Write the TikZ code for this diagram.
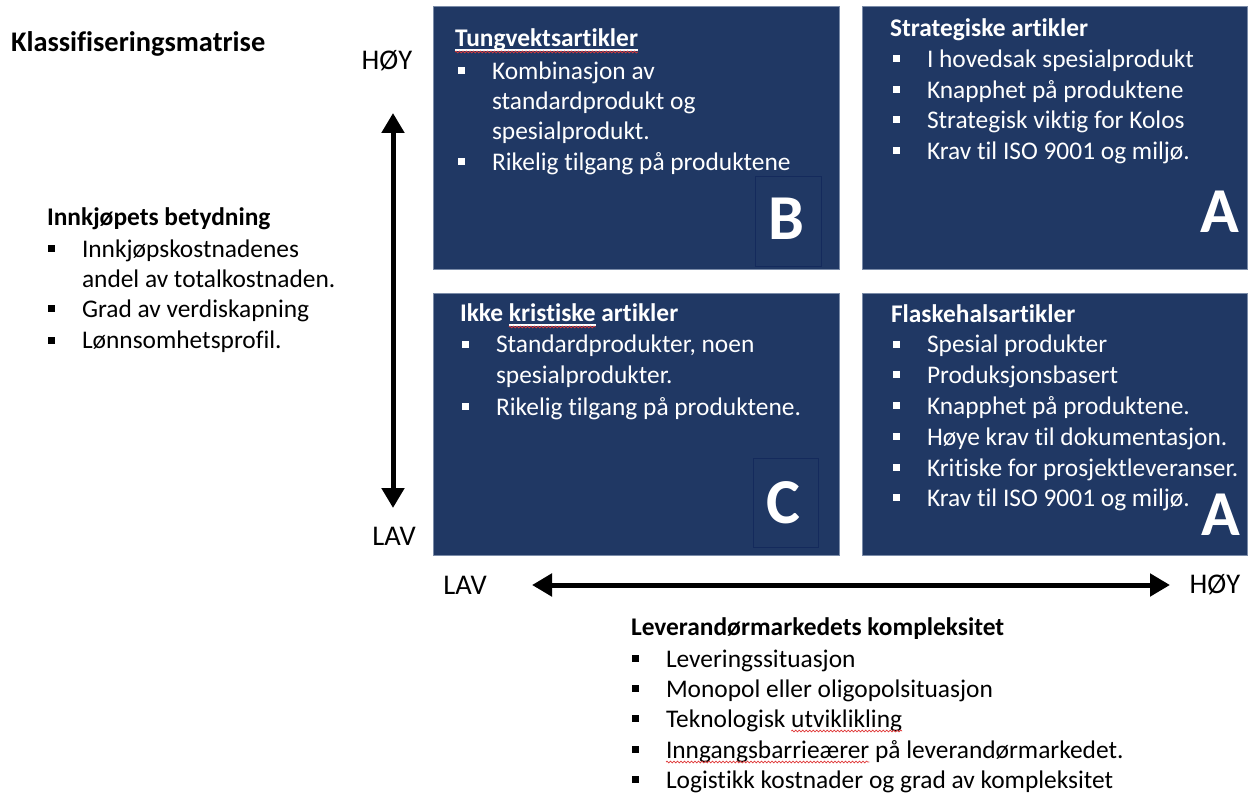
\documentclass[tikz,border=0pt]{standalone}
\usepackage{fontspec}
\setmainfont[Ligatures={NoCommon}]{Carlito}
\usetikzlibrary{arrows.meta,decorations.pathmorphing}
\definecolor{navy}{HTML}{203864}
\definecolor{boxedge}{HTML}{7A8BA8}
\definecolor{letteredge}{HTML}{142A5C}
\definecolor{wavecol}{HTML}{E03A3A}
\newcommand\bul{\makebox[34pt][l]{\rule[5.5pt]{7pt}{7pt}}}
\begin{document}
\begin{tikzpicture}[x=1pt,y=-1pt,
  body/.style={anchor=base west, inner sep=0pt, outer sep=0pt, font=\fontsize{25.4}{30}\selectfont},
  wtxt/.style={body, text=white},
  wttl/.style={wtxt, font=\fontsize{25.4}{30}\selectfont\bfseries},
  bttl/.style={body, font=\fontsize{25.4}{30}\selectfont\bfseries},
  mainttl/.style={body, font=\fontsize{28.4}{32}\selectfont\bfseries},
  axlbl/.style={anchor=base, inner sep=0pt, font=\fontsize{28.5}{32}\selectfont},
  quad/.style={fill=navy, draw=boxedge, line width=1pt, anchor=north west, inner sep=0pt},
  letterbox/.style={draw=letteredge, line width=1pt, anchor=north west, inner sep=0pt},
  bigletter/.style={inner sep=0pt, text=white, font=\fontsize{64}{64}\selectfont\bfseries},
  ulwhite/.style={draw=white, line width=1.4pt},
  wavy/.style={draw=wavecol, line width=0.7pt, decorate, decoration={snake, segment length=3.5pt, amplitude=0.9pt}},
  axarrow/.style={line width=5pt, {Triangle[length=20pt,width=22pt]}-{Triangle[length=20pt,width=22pt]}}
]
\useasboundingbox (0,0) rectangle (1251,794);
\fill[white] (0,0) rectangle (1251,794);

% quadrants
\node[quad, minimum width=406pt, minimum height=263pt] (qtl) at (433,6) {};
\node[quad, minimum width=385pt, minimum height=263pt] (qtr) at (862,6) {};
\node[quad, minimum width=406pt, minimum height=262pt] (qbl) at (433,293) {};
\node[quad, minimum width=385pt, minimum height=262pt] (qbr) at (862,293) {};

% letter boxes
\node[letterbox, minimum width=66pt, minimum height=90pt] (bbox) at (755,176) {};
\node[letterbox, minimum width=65pt, minimum height=89pt] (cbox) at (753,458) {};
\node[bigletter, anchor=base] (lb) at (786,240) {B};
\node[bigletter, anchor=base] (lc) at (783,523) {C};
\node[bigletter, anchor=base east] (la1) at (1239,233) {A};
\node[bigletter, anchor=base east] (la2) at (1240,535) {A};

% top-left quadrant
\node[wttl] (t1) at (455,47) {Tungvektsartikler};
\draw[ulwhite] ([yshift=-3pt]t1.base west) -- ([yshift=-3pt]t1.base east);
\draw[wavy] ([yshift=-5pt]t1.base west) -- ([yshift=-5pt]t1.base east);
\node[wtxt] (t1a) at (458,80) {\bul Kombinasjon av};
\node[wtxt] (t1b) at (492,110) {standardprodukt og};
\node[wtxt] (t1c) at (492,140) {spesialprodukt.};
\node[wtxt] (t1d) at (458,171) {\bul Rikelig tilgang på produktene};

% top-right quadrant
\node[wttl] (t2) at (890,37) {Strategiske artikler};
\node[wtxt] (t2a) at (893,68) {\bul I hovedsak spesialprodukt};
\node[wtxt] (t2b) at (893,99) {\bul Knapphet på produktene};
\node[wtxt] (t2c) at (893,129) {\bul Strategisk viktig for Kolos};
\node[wtxt] (t2d) at (893,160) {\bul Krav til ISO 9001 og miljø.};

% bottom-left quadrant
\node[wttl] (t3a) at (460,322) {Ikke};
\node[wttl] (t3b) at ([xshift=5.7pt]t3a.base east) {kristiske};
\node[wttl] (t3c) at ([xshift=5.7pt]t3b.base east) {artikler};
\draw[ulwhite] ([yshift=-3pt]t3b.base west) -- ([yshift=-3pt]t3b.base east);
\draw[wavy] ([yshift=-5pt]t3b.base west) -- ([yshift=-5pt]t3b.base east);
\node[wtxt] (t3d) at (462,353) {\bul Standardprodukter, noen};
\node[wtxt] (t3e) at (496,384) {spesialprodukter.};
\node[wtxt] (t3f) at (462,415) {\bul Rikelig tilgang på produktene.};

% bottom-right quadrant
\node[wttl] (t4) at (891,323) {Flaskehalsartikler};
\node[wtxt] (t4a) at (893,353) {\bul Spesial produkter};
\node[wtxt] (t4b) at (893,384) {\bul Produksjonsbasert};
\node[wtxt] (t4c) at (893,414) {\bul Knapphet på produktene.};
\node[wtxt] (t4d) at (893,445) {\bul Høye krav til dokumentasjon.};
\node[wtxt] (t4e) at (893,476) {\bul Kritiske for prosjektleveranser.};
\node[wtxt] (t4f) at (893,506) {\bul Krav til ISO 9001 og miljø.};

% left texts
\node[mainttl] (title) at (11,52) {Klassifiseringsmatrise};
\node[bttl] (lt) at (47,226) {Innkjøpets betydning};
\node[body] (lta) at (48,258) {\bul Innkjøpskostnadenes};
\node[body] (ltb) at (82,288) {andel av totalkostnaden.};
\node[body] (ltc) at (48,318) {\bul Grad av verdiskapning};
\node[body] (ltd) at (48,349) {\bul Lønnsomhetsprofil.};

% bottom texts
\node[bttl] (bt) at (631,635) {Leverandørmarkedets kompleksitet};
\node[body] (bta) at (632,667) {\bul Leveringssituasjon};
\node[body] (btb) at (632,697) {\bul Monopol eller oligopolsituasjon};
\node[body] (btc1) at (632,727) {\bul Teknologisk};
\node[body] (btc2) at ([xshift=5.7pt]btc1.base east) {utviklikling};
\draw[wavy] ([yshift=-4pt]btc2.base west) -- ([yshift=-4pt]btc2.base east);
\node[body] (btd1) at (632,758) {\bul \phantom{x}};
\node[body] (btd2) at (666,758) {Inngangsbarrieærer};
\node[body] (btd3) at ([xshift=5.7pt]btd2.base east) {på leverandørmarkedet.};
\draw[wavy] ([yshift=-4pt]btd2.base west) -- ([yshift=-4pt]btd2.base east);
\node[body] (bte) at (632,788) {\bul Logistikk kostnader og grad av kompleksitet};

% axis labels
\node[axlbl] (vhoy) at (387,70) {HØY};
\node[axlbl] (vlav) at (394,545) {LAV};
\node[axlbl] (hlav) at (465,594) {LAV};
\node[axlbl] (hhoy) at (1215,593) {HØY};

% axes
\coordinate (vtop) at (393,113);
\coordinate (vbot) at (393,508);
\coordinate (hleft) at (532,585);
\coordinate (hright) at (1170,585);
\draw[axarrow] (vbot) -- (vtop);
\draw[axarrow] (hleft) -- (hright);
\end{tikzpicture}
\end{document}
